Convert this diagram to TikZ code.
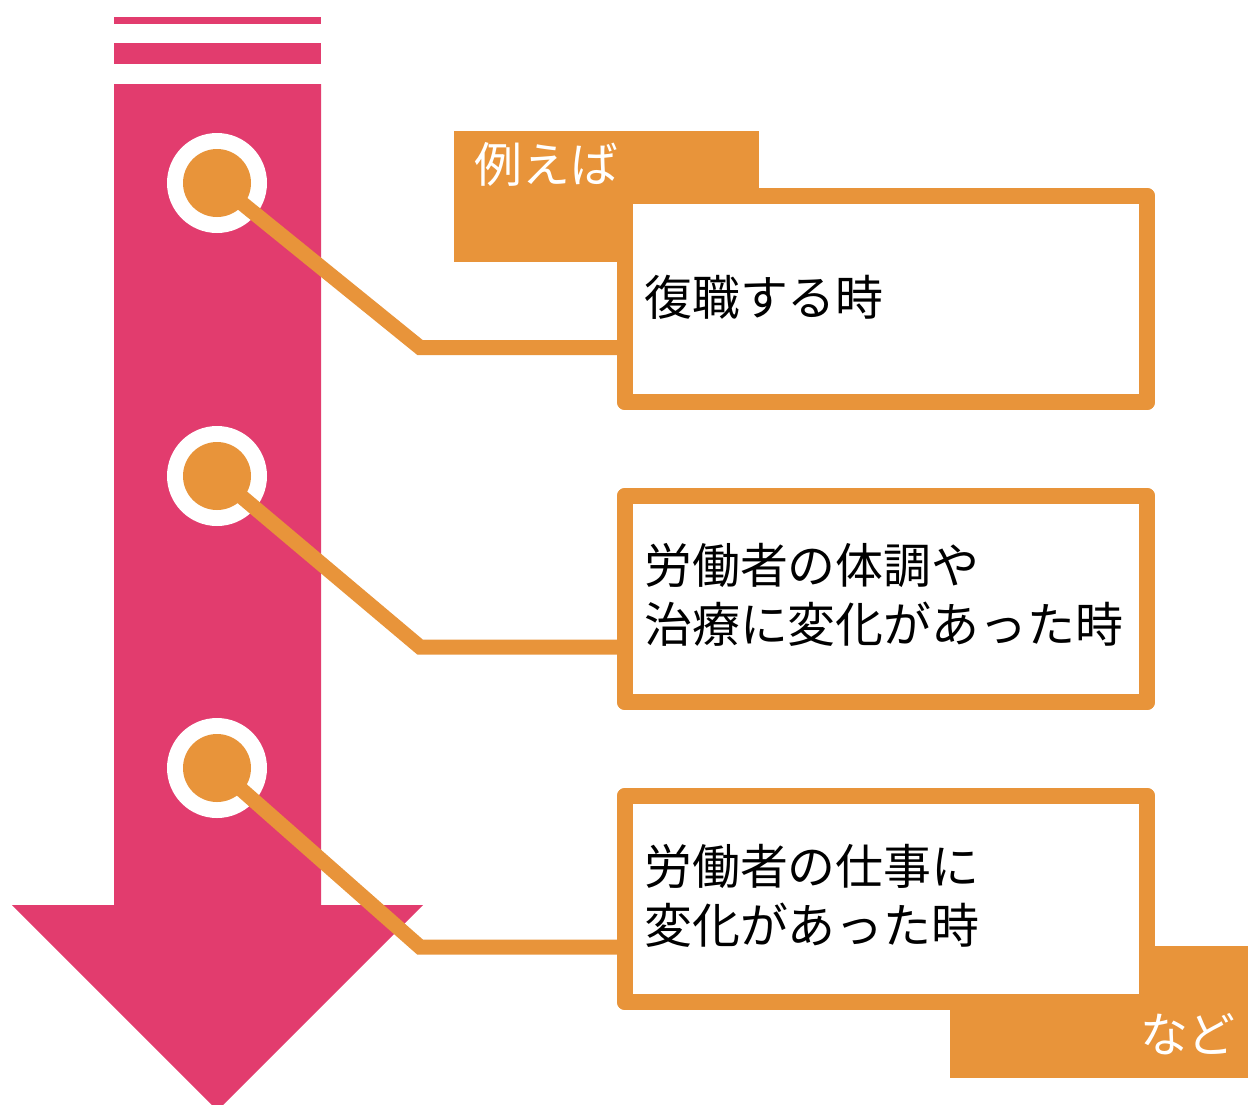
\documentclass[tikz,border=0pt]{standalone}
\usepackage{fontspec}
\newfontfamily\jp{Noto Sans CJK JP}
\definecolor{pinkA}{HTML}{E23C6E}
\definecolor{orangeA}{HTML}{E8943A}
\begin{document}
\begin{tikzpicture}[x=1pt,y=-1pt,
  arrowfill/.style={fill=pinkA},
  ring/.style={circle,fill=white,minimum size=100pt,inner sep=0pt},
  dot/.style={circle,fill=orangeA,minimum size=68pt,inner sep=0pt},
  conn/.style={draw=orangeA,line width=15pt},
  box/.style={rectangle,draw=orangeA,fill=white,line width=16pt,line join=round,minimum width=522pt,minimum height=206pt,inner sep=0pt},
  tab/.style={fill=orangeA},
  txt/.style={font=\jp\fontsize{47.9pt}{59pt}\selectfont,inner sep=0pt,align=left,anchor=west,text=black},
  tabtxt/.style={font=\jp\fontsize{47.9pt}{59pt}\selectfont,inner sep=0pt,text=white}
]
\useasboundingbox (0,0) rectangle (1248,1104);
% big arrow
\path[arrowfill] (114,17) rectangle (321,24);
\path[arrowfill] (114,43) rectangle (321,64);
\path[arrowfill] (114,84) -- (321,84) -- (321,905) -- (423,905) -- (217.5,1110.5) -- (12,905) -- (114,905) -- cycle;
% rings
\node[ring] (r1) at (217,183) {};
\node[ring] (r2) at (217,476) {};
\node[ring] (r3) at (217,768) {};
% tabs
\path[tab] (454,131) rectangle (759,262);
\path[tab] (950,946) rectangle (1248,1078);
\node[tabtxt,anchor=west] (tA) at (474,164) {例えば};
\node[tabtxt,anchor=east] (tB) at (1236,1034) {など};
% boxes
\node[box] (b1) at (886,299) {};
\node[box] (b2) at (886,599) {};
\node[box] (b3) at (886,899) {};
% connectors
\coordinate (k1) at (420,347.5);
\coordinate (k2) at (420,647);
\coordinate (k3) at (420,947);
\draw[conn] (r1.center) -- (k1) -- (k1 -| b1.west);
\draw[conn] (r2.center) -- (k2) -- (k2 -| b2.west);
\draw[conn] (r3.center) -- (k3) -- (k3 -| b3.west);
% dots
\node[dot] (d1) at (r1) {};
\node[dot] (d2) at (r2) {};
\node[dot] (d3) at (r3) {};
% redraw box borders over connector ends
\node[box] at (b1) {};
\node[box] at (b2) {};
\node[box] at (b3) {};
% texts
\node[txt] (t1) at (644,297) {復職する時};
\node[txt] (t2) at (644,595) {労働者の体調や\\治療に変化があった時};
\node[txt] (t3) at (644,896) {労働者の仕事に\\変化があった時};
\end{tikzpicture}
\end{document}
